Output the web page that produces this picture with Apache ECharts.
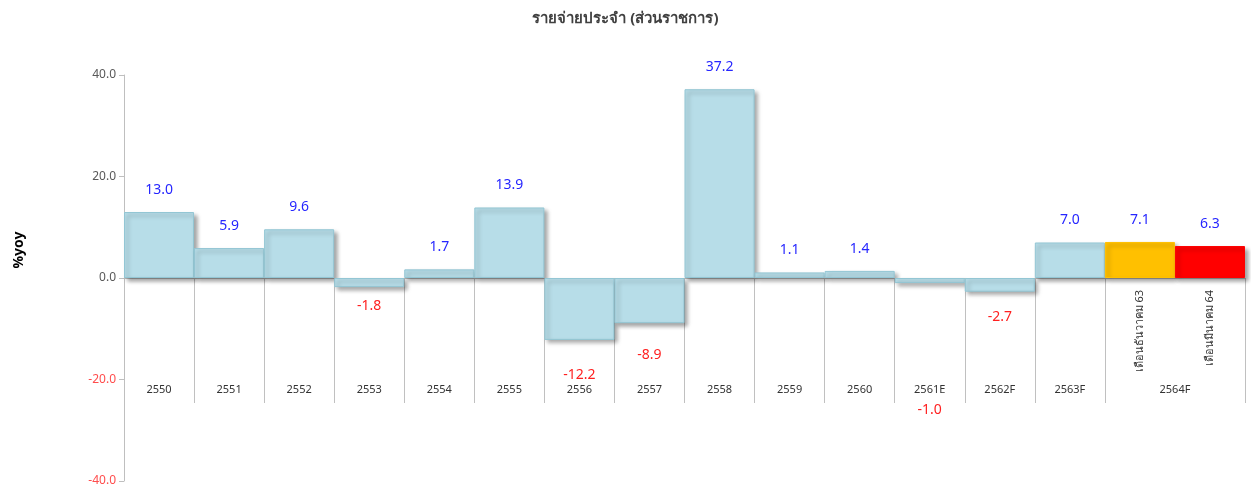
<!DOCTYPE html>
<html><head><meta charset="utf-8">
<script src="https://cdn.jsdelivr.net/npm/echarts@6/dist/echarts.min.js"></script>
<style>html,body{margin:0;padding:0;background:#fff}#c{width:1251px;height:491px}</style>
</head><body><div id="c"></div>
<script>
const title = 'รายจ่ายประจำ (ส่วนราชการ)';
const yearLabels = ['2550','2551','2552','2553','2554','2555','2556','2557','2558','2559','2560','2561E','2562F','2563F','2564F'];
const subLabels = ['','','','','','','','','','','','','','','เดือนธันวาคม 63','เดือนมีนาคม 64'];
const values = [13.0, 5.9, 9.6, -1.8, 1.7, 13.9, -12.2, -8.9, 37.2, 1.1, 1.4, -1.0, -2.7, 7.0, 7.1, 6.3];
const yTicks = [-40, -20, 0, 20, 40];

const barColors = values.map((v,i)=> i===14 ? '#ffc000' : (i===15 ? '#ff0000' : '#b7dde8'));
const negDist = {3:12, 6:28, 7:25, 11:120, 12:18};

const seriesData = values.map((v,i)=>({
  value: v,
  itemStyle: {color: barColors[i], borderColor: i<14 ? '#93c6d4' : barColors[i], borderWidth: 1},
  label: v>=0 ? {position:'top', distance: 15, color:'#2626ff'} : {position:'bottom', distance: negDist[i] || 14, color:'#ff2020'}
}));

const nCat = subLabels.length;
const tickVals = [];
for (let i=1;i<=14;i++) tickVals.push(i);
tickVals.push(16);
const labelVals = [];
for (let i=0;i<14;i++) labelVals.push(i+0.5);
labelVals.push(15);

const GRID_TOP = 75, GRID_BOTTOM = 10, H = 491;
const zeroOffset = -((H - GRID_TOP - GRID_BOTTOM) / 2);

const chart = echarts.init(document.getElementById('c'));
chart.setOption({
  animation:false,
  title:{text:title, left:'center', top:6, textStyle:{fontSize:15, fontWeight:'bold', color:'#404040', fontFamily:'Noto Sans, sans-serif'}},
  grid:{left:124, right:6, top:GRID_TOP, bottom:GRID_BOTTOM, containLabel:false, outerBoundsMode:'none'},
  xAxis:[
    {type:'category', data:subLabels, position:'bottom', offset:zeroOffset,
     axisLine:{show:false, onZero:false}, axisTick:{show:false},
     axisLabel:{interval:0, rotate:90, margin:12, fontSize:11, color:'#333', fontFamily:'Noto Sans, sans-serif'}},
    {type:'value', min:0, max:nCat, position:'bottom', offset:zeroOffset, splitLine:{show:false},
     axisLine:{show:true, onZero:false, lineStyle:{color:'#bfbfbf'}},
     axisTick:{show:true, customValues:tickVals, length:125, lineStyle:{color:'#c0c0c0'}},
     axisLabel:{customValues:labelVals, margin:106, fontSize:11, color:'#333', fontFamily:'Noto Sans, sans-serif',
       formatter:(v)=> v<14 ? yearLabels[Math.floor(v)] : yearLabels[14]}}
  ],
  yAxis:{type:'value', min:yTicks[0], max:yTicks[yTicks.length-1], interval:20,
    name:'%yoy', nameLocation:'middle', nameGap:98, nameRotate:90,
    nameTextStyle:{fontSize:14, fontWeight:'bold', color:'#000', padding:[0,0,0,56], fontFamily:'Noto Sans, sans-serif'},
    axisLine:{show:true, onZero:false, lineStyle:{color:'#bfbfbf'}}, axisTick:{show:true, length:5, lineStyle:{color:'#bfbfbf'}},
    splitLine:{show:false},
    axisLabel:{formatter:(v)=>v.toFixed(1), fontSize:12, color:(v)=> Number(v)<0 ? '#ff4d4d' : '#595959', fontFamily:'Noto Sans, sans-serif'}},
  series:[{type:'bar', xAxisIndex:0, data:seriesData, barCategoryGap:'0%', z:3,
    itemStyle:{shadowColor:'rgba(0,0,0,0.35)', shadowBlur:4, shadowOffsetX:3, shadowOffsetY:3},
    label:{show:true, fontSize:14, fontFamily:'Noto Sans, sans-serif', formatter:(p)=>p.value.toFixed(1)}}]
});
</script></body></html>
